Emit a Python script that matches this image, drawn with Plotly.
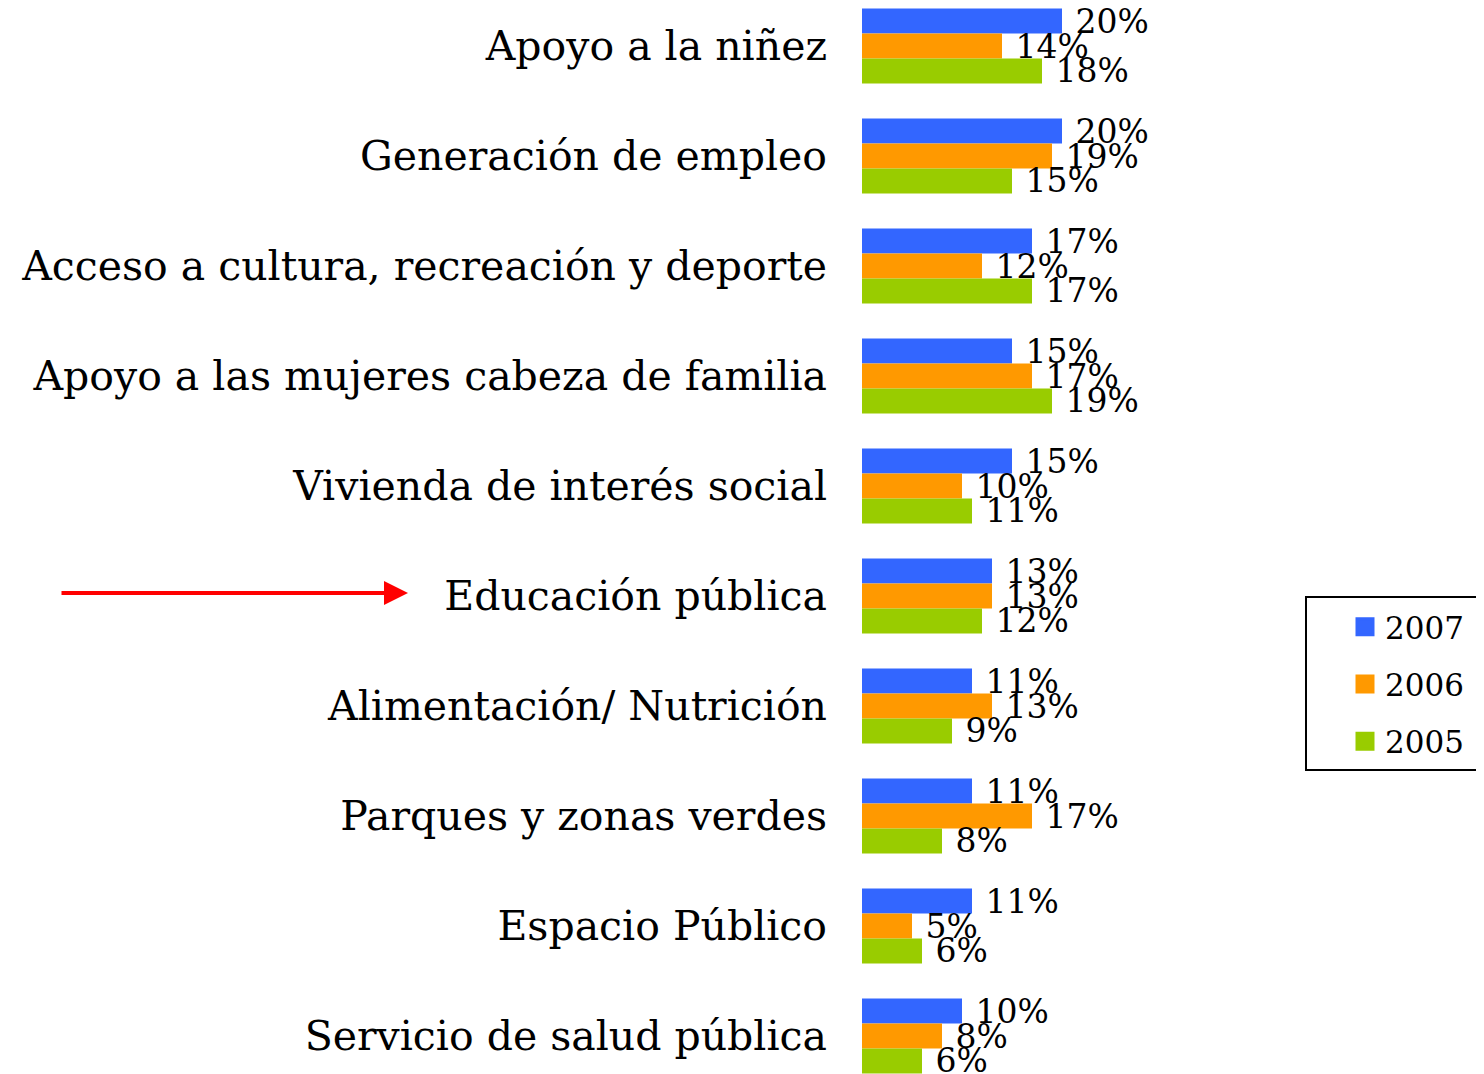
import plotly.graph_objects as go

categories = [
    "Apoyo a la niñez",
    "Generación de empleo",
    "Acceso a cultura, recreación y deporte",
    "Apoyo a las mujeres cabeza de familia",
    "Vivienda de interés social",
    "Educación pública",
    "Alimentación/ Nutrición",
    "Parques y zonas verdes",
    "Espacio Público",
    "Servicio de salud pública",
]
v2007 = [20, 20, 17, 15, 15, 13, 11, 11, 11, 10]
v2006 = [14, 19, 12, 17, 10, 13, 13, 17, 5, 8]
v2005 = [18, 15, 17, 19, 11, 12, 9, 8, 6, 6]
series_names = ["2007", "2006", "2005"]
colors = ["#3366FF", "#FF9900", "#99CC00"]

OFF = 8  # page body margin
W, H = 1484, 1074
L = 862 - OFF
PW = 400  # plot width in px for x range [0, 40]
XMAX = 40
R = W - L - PW
FONT = "DejaVu Serif"

def px_x(p):
    return (p - OFF - L) / PW

def px_y(p):
    return 1 - (p - OFF) / H

fig = go.Figure()
for name, vals, col in zip(series_names, [v2007, v2006, v2005], colors):
    fig.add_trace(go.Bar(
        y=categories, x=vals, orientation="h", name=name,
        marker=dict(color=col, line=dict(width=0)),
        text=[f" {v}%" for v in vals], textposition="outside",
        constraintext="none", cliponaxis=False,
        textfont=dict(family=FONT, size=33, color="black"),
        showlegend=False,
    ))
    fig.add_trace(go.Scatter(
        x=[None], y=[None], mode="markers", name=name,
        marker=dict(symbol="square", size=16, color=col, line=dict(width=3, color=col)),
        legendgroup=name, showlegend=True,
    ))

# group centres: first at page y=46px, 110px per category
c0 = 46 - OFF
top_val = -c0 / 110
bot_val = (H - c0) / 110

fig.update_layout(
    width=W, height=H,
    margin=dict(l=L, r=R, t=0, b=0, pad=0),
    paper_bgcolor="white", plot_bgcolor="white",
    barmode="group", bargap=0.32, bargroupgap=0,
    font=dict(family=FONT, color="black"),
    xaxis=dict(range=[0, XMAX], visible=False, fixedrange=True),
    yaxis=dict(
        type="category", categoryorder="array", categoryarray=categories,
        range=[bot_val, top_val], showgrid=False, zeroline=False,
        showline=False, ticks="", ticklabelstandoff=34,
        tickfont=dict(family=FONT, size=41, color="black"),
    ),
    legend=dict(
        x=px_x(1345), y=px_y(600), xanchor="left", yanchor="top",
        font=dict(family=FONT, size=31, color="black"),
        bgcolor="rgba(0,0,0,0)", borderwidth=0,
        traceorder="grouped", tracegroupgap=14,
        itemwidth=30,
    ),
    shapes=[dict(
        type="rect", xref="paper", yref="paper",
        x0=px_x(1306), x1=px_x(1500), y0=px_y(770), y1=px_y(597),
        line=dict(color="black", width=2), fillcolor="rgba(0,0,0,0)",
    )],
    annotations=[dict(
        xref="paper", yref="paper", x=px_x(408), y=px_y(593),
        ax=-348, ay=0, axref="pixel", ayref="pixel",
        text="", showarrow=True, arrowhead=2, arrowsize=1.2,
        arrowwidth=4, arrowcolor="#FF0000", standoff=0,
    )],
)

fig.write_html("out.html")
